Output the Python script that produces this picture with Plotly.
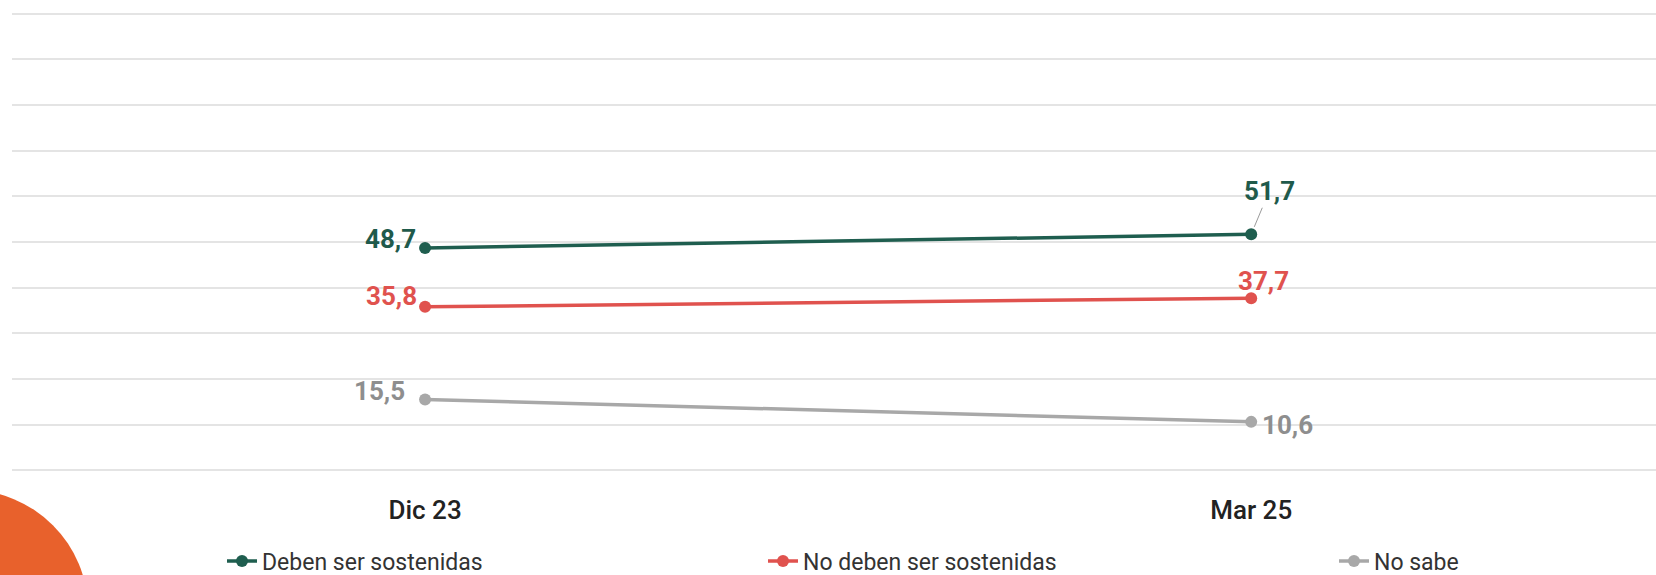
import plotly.graph_objects as go

# ---- data ----
categories = ["Dic 23", "Mar 25"]
series_names = ["Deben ser sostenidas", "No deben ser sostenidas", "No sabe"]
deben = [48.7, 51.7]
no_deben = [35.8, 37.7]
no_sabe = [15.5, 10.6]

# ---- styling ----
W, H = 1656, 575
ML, MR, MT, MB = 12, 0, 11, 102
PW, PH = W - ML - MR, H - MT - MB

colors_line = ["#1f5e4f", "#e0524e", "#a8a8a8"]
colors_text = ["#1f5a4b", "#e0524e", "#8e8e8e"]
FONT = "Roboto"

# label offsets per series / point: (xanchor, xshift, yshift, arrow ax, ay)
label_style = [
    [("right", -7, 9, None), ("center", 0, 0, (18, -43))],
    [("right", -6, 11, None), ("center", 12, 17, None)],
    [("right", -18, 9, None), ("left", 9, -3, None)],
]
legend_text_x = [263, 804, 1375]
legend_text_y = 561


def px_to_paper_x(px):
    return (px - ML) / PW


def px_to_paper_y(py):
    return (H - MB - py) / PH


fig = go.Figure()
all_values = [deben, no_deben, no_sabe]
legend_ids = ["legend", "legend2", "legend3"]
for i, (name, vals) in enumerate(zip(series_names, all_values)):
    fig.add_trace(go.Scatter(
        x=categories, y=vals, name=name, mode="lines+markers",
        line=dict(color=colors_line[i], width=3.5),
        marker=dict(color=colors_line[i], size=12),
        legend=legend_ids[i], hoverinfo="skip",
    ))
    for j, v in enumerate(vals):
        xa, xs, ys, arrow = label_style[i][j]
        txt = f"{v:.1f}".replace(".", ",")
        if arrow:
            fig.add_annotation(
                x=categories[j], y=v, text=f"<b>{txt}</b>", showarrow=True,
                ax=arrow[0], ay=arrow[1], arrowhead=0, arrowwidth=1,
                arrowcolor="#9a9a9a", standoff=8,
                font=dict(family=FONT, size=26, color=colors_text[i]),
            )
        else:
            fig.add_annotation(
                x=categories[j], y=v, text=f"<b>{txt}</b>", showarrow=False,
                xanchor=xa, yanchor="middle", xshift=xs, yshift=ys,
                font=dict(family=FONT, size=26, color=colors_text[i]),
            )

# decorative orange circle (bottom-left)
fig.add_shape(
    type="circle", xref="paper", yref="paper",
    x0=px_to_paper_x(-152), x1=px_to_paper_x(88),
    y0=px_to_paper_y(730), y1=px_to_paper_y(490),
    fillcolor="#e8612c", line=dict(width=0), layer="below",
)

legend_common = dict(
    orientation="h", xanchor="left", yanchor="middle",
    font=dict(family=FONT, size=23, color="#333333"),
    bgcolor="rgba(0,0,0,0)", borderwidth=0,
)
layout_legends = {}
for k, lid in enumerate(legend_ids):
    layout_legends[lid] = dict(
        legend_common,
        x=px_to_paper_x(legend_text_x[k] - 41),
        y=px_to_paper_y(legend_text_y),
    )

fig.update_layout(
    width=W, height=H,
    margin=dict(l=ML, r=MR, t=MT, b=MB, pad=0, autoexpand=False),
    paper_bgcolor="white", plot_bgcolor="white",
    showlegend=True,
    xaxis=dict(
        type="category", range=[-0.5, 1.49], showgrid=False, zeroline=False,
        showline=False, ticks="", ticklabelstandoff=19,
        tickfont=dict(family=FONT, size=26, color="#222222", weight=500),
    ),
    yaxis=dict(
        range=[-0.6, 100.6], dtick=10, showticklabels=False,
        gridcolor="#e4e4e4", gridwidth=1.6,
        zeroline=True, zerolinecolor="#e4e4e4", zerolinewidth=1.6,
        showline=False,
    ),
    **layout_legends,
)

fig.write_html(
    "out.html",
    config={"displayModeBar": False},
    post_script="document.body.style.margin='0';",
)
